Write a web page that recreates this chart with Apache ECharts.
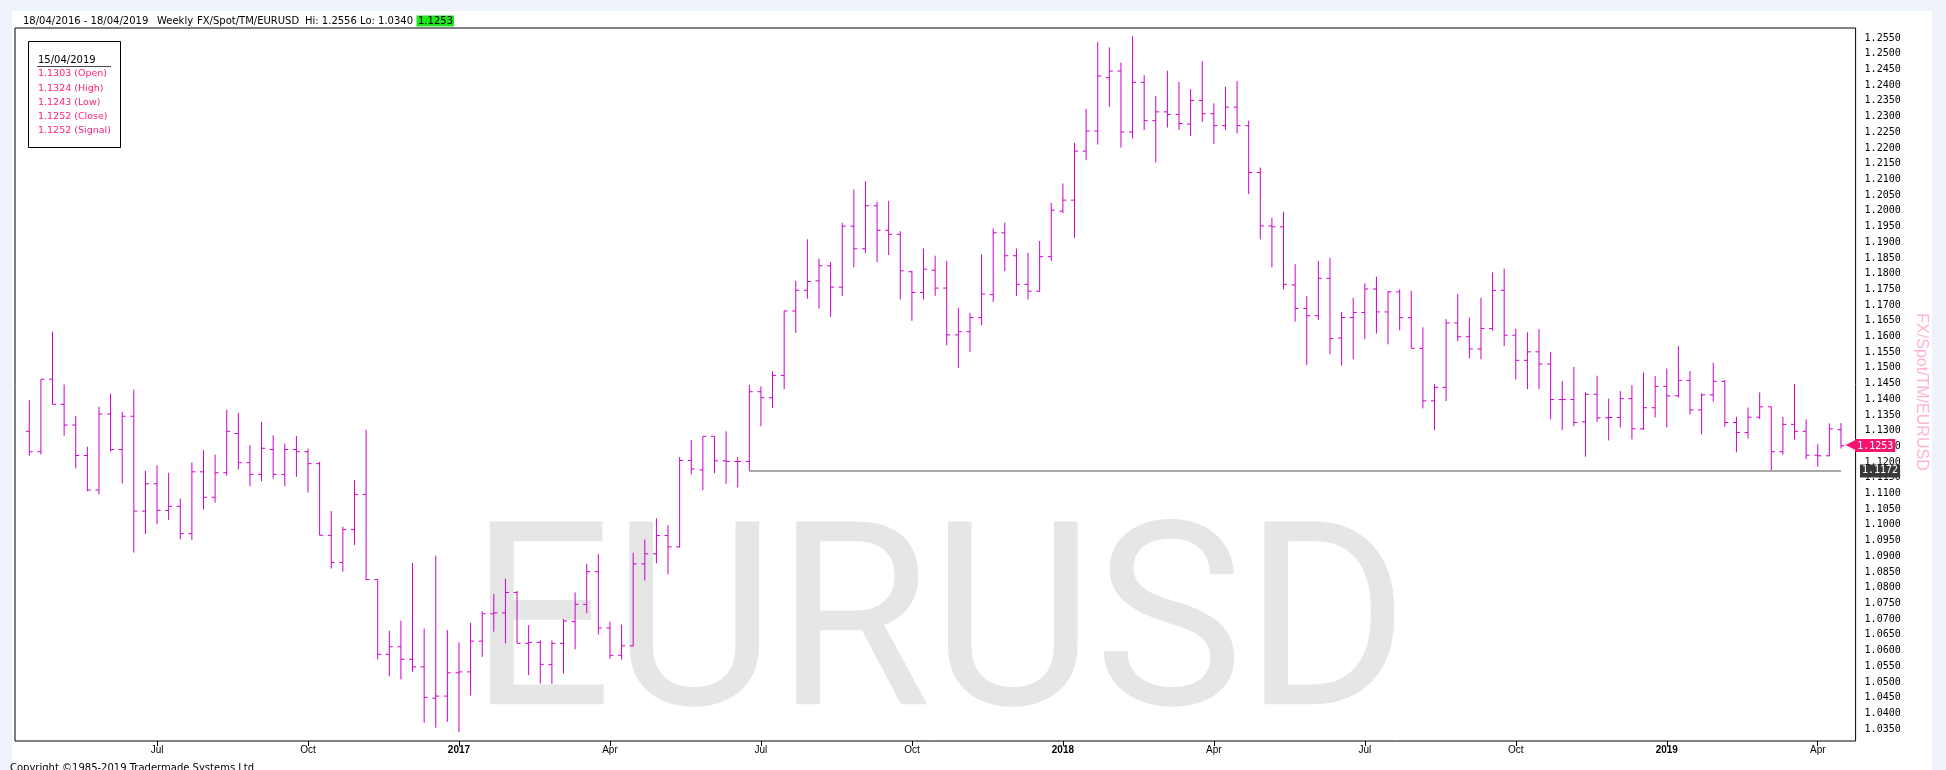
<!DOCTYPE html>
<html>
<head>
<meta charset="utf-8">
<title>EURUSD weekly</title>
<script src="https://cdn.jsdelivr.net/npm/echarts@6/dist/echarts.min.js"></script>
<style>
html,body{margin:0;padding:0;background:#eff3fb;}
#main{width:1946px;height:770px;}
</style>
</head>
<body>
<div id="main"></div>
<script>
// weekly OHLC, first bar week of 18/04/2016
var opens = [
  1.1298,1.1233,1.1464,1.1384,1.1318,1.1221,1.1111,1.1353,1.1240,1.1346,
  1.1044,1.1131,1.1046,1.1059,1.0972,1.1169,1.1088,1.1166,1.1291,1.1198,
  1.1161,1.1240,1.1160,1.1240,1.1233,1.1195,1.0967,1.0880,1.0985,1.1097,
  1.0826,1.0588,1.0612,1.0572,1.0548,1.0448,1.0455,1.0529,1.0532,1.0630,
  1.0717,1.0720,1.0785,1.0623,1.0626,1.0555,1.0623,1.0692,1.0747,1.0851,
  1.0672,1.0585,1.0615,1.0876,1.0908,1.0966,1.0930,1.1205,1.1175,1.1282,
  1.1204,1.1202,1.1202,1.1424,1.1405,1.1476,1.1681,1.1747,1.1777,1.1825,
  1.1757,1.1951,1.1879,1.2016,1.1938,1.1925,1.1806,1.1740,1.1811,1.1754,
  1.1605,1.1615,1.1660,1.1733,1.1930,1.1857,1.1766,1.1744,1.1854,1.1999,
  1.2034,1.2190,1.2254,1.2424,1.2445,1.2251,1.2409,1.2287,1.2315,1.2307,
  1.2276,1.2351,1.2309,1.2271,1.2330,1.2271,1.2122,1.1952,1.1949,1.1764,
  1.1689,1.1666,1.1785,1.1595,1.1660,1.1676,1.1751,1.1678,1.1742,1.1660,
  1.1562,1.1395,1.1438,1.1643,1.1599,1.1560,1.1625,1.1747,1.1604,1.1524,
  1.1551,1.1512,1.1399,1.1399,1.1328,1.1416,1.1341,1.1342,1.1402,1.1306,
  1.1373,1.1441,1.1411,1.1460,1.1366,1.1414,1.1457,1.1326,1.1294,1.1343,
  1.1376,1.1233,1.1320,1.1298,1.1222,1.1220,1.1303];
var highs = [
  1.1397,1.1464,1.1615,1.1447,1.1347,1.1249,1.1376,1.1418,1.1360,1.1431,
  1.1172,1.1190,1.1166,1.1084,1.1199,1.1238,1.1224,1.1367,1.1357,1.1254,
  1.1328,1.1285,1.1259,1.1283,1.1243,1.1201,1.1044,1.0994,1.1143,1.1302,
  1.0827,1.0663,1.0695,1.0879,1.0670,1.0902,1.0665,1.0626,1.0688,1.0725,
  1.0780,1.0829,1.0790,1.0681,1.0633,1.0632,1.0700,1.0785,1.0876,1.0908,
  1.0692,1.0683,1.0911,1.0953,1.1021,1.0999,1.1216,1.1270,1.1282,1.1282,
  1.1298,1.1216,1.1446,1.1441,1.1489,1.1682,1.1777,1.1909,1.1848,1.1838,
  1.1962,1.2068,1.2094,1.2029,1.2032,1.1935,1.1809,1.1880,1.1857,1.1840,
  1.1691,1.1675,1.1861,1.1944,1.1962,1.1880,1.1866,1.1904,1.2025,1.2087,
  1.2216,1.2324,1.2538,1.2520,1.2472,1.2556,1.2432,1.2365,1.2446,1.2411,
  1.2387,1.2476,1.2342,1.2395,1.2413,1.2287,1.2138,1.1978,1.1997,1.1830,
  1.1728,1.1840,1.1851,1.1678,1.1723,1.1769,1.1790,1.1744,1.1750,1.1745,
  1.1629,1.1448,1.1655,1.1735,1.1660,1.1723,1.1804,1.1816,1.1625,1.1613,
  1.1623,1.1551,1.1458,1.1503,1.1422,1.1475,1.1402,1.1426,1.1445,1.1485,
  1.1474,1.1498,1.1570,1.1490,1.1419,1.1516,1.1461,1.1344,1.1374,1.1422,
  1.1376,1.1344,1.1448,1.1336,1.1257,1.1323,1.1324];
var lows = [
  1.1220,1.1224,1.1384,1.1284,1.1180,1.1107,1.1097,1.1233,1.1132,1.0912,
  1.0971,1.1002,1.1015,1.0955,1.0952,1.1049,1.1071,1.1156,1.1177,1.1123,
  1.1139,1.1148,1.1123,1.1153,1.1103,1.0967,1.0861,1.0851,1.0936,1.0824,
  1.0572,1.0518,1.0508,1.0532,1.0370,1.0354,1.0373,1.0340,1.0457,1.0580,
  1.0660,1.0623,1.0623,1.0522,1.0495,1.0494,1.0527,1.0604,1.0719,1.0651,
  1.0574,1.0571,1.0613,1.0823,1.0878,1.0842,1.0928,1.1161,1.1111,1.1165,
  1.1130,1.1119,1.1172,1.1314,1.1372,1.1432,1.1611,1.1720,1.1689,1.1662,
  1.1729,1.1820,1.1866,1.1836,1.1859,1.1718,1.1650,1.1718,1.1729,1.1572,
  1.1500,1.1551,1.1636,1.1710,1.1808,1.1729,1.1718,1.1742,1.1840,1.1992,
  1.1914,1.2161,1.2211,1.2331,1.2201,1.2230,1.2257,1.2154,1.2265,1.2257,
  1.2238,1.2283,1.2212,1.2257,1.2246,1.2053,1.1909,1.1820,1.1750,1.1647,
  1.1509,1.1652,1.1543,1.1507,1.1527,1.1591,1.1609,1.1575,1.1620,1.1562,
  1.1371,1.1302,1.1394,1.1585,1.1530,1.1527,1.1618,1.1569,1.1463,1.1432,
  1.1432,1.1336,1.1302,1.1314,1.1217,1.1328,1.1269,1.1310,1.1272,1.1302,
  1.1342,1.1310,1.1405,1.1352,1.1288,1.1392,1.1312,1.1231,1.1275,1.1337,
  1.1174,1.1224,1.1272,1.1209,1.1185,1.1219,1.1243];
var closes = [
  1.1233,1.1464,1.1384,1.1318,1.1221,1.1111,1.1353,1.1240,1.1346,1.1044,
  1.1131,1.1046,1.1059,1.0972,1.1169,1.1088,1.1166,1.1298,1.1198,1.1161,
  1.1244,1.1161,1.1240,1.1233,1.1195,1.0967,1.0880,1.0985,1.1097,1.0826,
  1.0588,1.0612,1.0572,1.0548,1.0451,1.0455,1.0529,1.0532,1.0630,1.0717,
  1.0720,1.0785,1.0623,1.0626,1.0556,1.0623,1.0694,1.0747,1.0851,1.0672,
  1.0585,1.0615,1.0876,1.0908,1.0966,1.0930,1.1205,1.1178,1.1282,1.1204,
  1.1202,1.1202,1.1424,1.1405,1.1476,1.1681,1.1747,1.1775,1.1825,1.1757,
  1.1951,1.1879,1.2016,1.1938,1.1925,1.1809,1.1740,1.1814,1.1754,1.1605,
  1.1615,1.1660,1.1735,1.1930,1.1857,1.1766,1.1744,1.1854,1.2002,1.2034,
  1.2190,1.2254,1.2429,1.2445,1.2251,1.2409,1.2287,1.2315,1.2307,1.2278,
  1.2351,1.2309,1.2271,1.2330,1.2271,1.2122,1.1952,1.1949,1.1766,1.1689,
  1.1666,1.1785,1.1593,1.1660,1.1676,1.1751,1.1678,1.1742,1.1660,1.1562,
  1.1395,1.1438,1.1643,1.1599,1.1560,1.1625,1.1747,1.1604,1.1524,1.1551,
  1.1512,1.1399,1.1399,1.1326,1.1416,1.1341,1.1342,1.1402,1.1306,1.1373,
  1.1441,1.1411,1.1460,1.1366,1.1414,1.1457,1.1326,1.1294,1.1343,1.1376,
  1.1233,1.1320,1.1298,1.1222,1.1220,1.1306,1.1252];

// x axis labels sit on the first bar of each quarter
var tickIdx = [11, 24, 37, 50, 63, 76, 89, 102, 115, 128, 141, 154];
var tickLabels = ['Jul', 'Oct', '2017', 'Apr', 'Jul', 'Oct', '2018', 'Apr', 'Jul', 'Oct', '2019', 'Apr'];

var supportLevel = 1.1172, supportFrom = 62;
var lastPrice = 1.1253;

var n = closes.length;
var rows = [];
for (var i = 0; i < n; i++) rows.push([i, opens[i], highs[i], lows[i], closes[i]]);
var hi = Math.max.apply(null, highs), lo = Math.min.apply(null, lows);

function pad(v){ return v < 10 ? '0' + v : '' + v; }
function fmtDate(d){ return pad(d.getUTCDate()) + '/' + pad(d.getUTCMonth() + 1) + '/' + d.getUTCFullYear(); }
var lastDate = new Date(Date.UTC(2016, 3, 18) + (n - 1) * 7 * 864e5);

var barColor = '#cc00cc', pink = '#ff1f78', priceBg = '#f5146e';
var uiFont = '"DejaVu Sans", Verdana, sans-serif';
var monoFont = '"DejaVu Sans Mono", monospace';

function txt(x, y, s, size, color){
  return { type: 'text', x: x, y: y, silent: true,
    style: { text: s, fontFamily: uiFont, fontSize: size, fill: color, verticalAlign: 'middle' } };
}

var legendLines = [
  opens[n-1].toFixed(4) + ' (Open)',
  highs[n-1].toFixed(4) + ' (High)',
  lows[n-1].toFixed(4) + ' (Low)',
  closes[n-1].toFixed(4) + ' (Close)',
  closes[n-1].toFixed(4) + ' (Signal)'
];

var graphics = [
  { type: 'rect', z: -10, silent: true, shape: { x: 12, y: 11, width: 1920, height: 759 }, style: { fill: '#fff' } },
  { type: 'text', z: -5, silent: true, x: 939, y: 640, scaleX: 0.98,
    style: { text: 'EURUSD', fontFamily: 'Roboto', fontSize: 257, fill: '#e6e6e6', align: 'center', verticalAlign: 'middle' } },
  txt(23, 21, '18/04/2016 - 18/04/2019', 10, '#000'),
  txt(157, 21, 'Weekly', 10, '#000'),
  txt(197, 21, 'FX/Spot/TM/EURUSD', 10, '#000'),
  txt(305, 21, 'Hi: ' + hi.toFixed(4) + ' Lo: ' + lo.toFixed(4), 10, '#000'),
  { type: 'rect', silent: true, shape: { x: 416.5, y: 15.5, width: 37.5, height: 11 }, style: { fill: '#1ee61e' } },
  txt(418, 21, lastPrice.toFixed(4), 10, '#000'),
  { type: 'rect', silent: true, shape: { x: 28.5, y: 41.5, width: 92, height: 106 }, style: { fill: '#fff', stroke: '#000', lineWidth: 1 } },
  txt(38, 60, fmtDate(lastDate), 10, '#000'),
  { type: 'line', silent: true, shape: { x1: 37, y1: 66.5, x2: 111, y2: 66.5 }, style: { stroke: '#444', lineWidth: 1 } },
  txt(10, 768, 'Copyright \u00a91985-2019 Tradermade Systems Ltd', 10, '#000')
];
legendLines.forEach(function (s, k) {
  graphics.push(txt(38, 74 + k * 14.25, s, 9.5, pink));
});

var chart = echarts.init(document.getElementById('main'));
chart.setOption({
  animation: false,
  backgroundColor: '#eff3fb',
  graphic: graphics,
  grid: { left: 15, top: 28, width: 1840.6, height: 713, show: true, borderColor: '#000', borderWidth: 1, backgroundColor: 'transparent' },
  xAxis: {
    type: 'value', min: -1.231, max: 157.26,
    axisLine: { show: false },
    splitLine: { show: false },
    axisTick: { show: true, length: 5, customValues: tickIdx, lineStyle: { color: '#000' } },
    axisLabel: {
      customValues: tickIdx, margin: 4, color: '#000', fontSize: 10,
      fontFamily: '"Liberation Sans Narrow", "Liberation Sans", Arial, sans-serif',
      formatter: function (v) {
        var k = tickIdx.indexOf(Math.round(v));
        if (k < 0) return '';
        var s = tickLabels[k];
        return /^\d+$/.test(s) ? '{y|' + s + '}' : s;
      },
      rich: { y: { fontWeight: 'bold', fontSize: 10, color: '#000', fontFamily: '"Liberation Sans Narrow", "Liberation Sans", Arial, sans-serif' } }
    }
  },
  yAxis: {
    type: 'value', position: 'right', min: 1.0312, max: 1.2582, splitNumber: 45, scale: true,
    axisLine: { show: false }, axisTick: { show: false }, splitLine: { show: false },
    axisLabel: {
      showMinLabel: false, showMaxLabel: false, margin: 9,
      fontFamily: monoFont, fontSize: 10, color: '#000',
      formatter: function (v) { return v.toFixed(4); }
    },
    name: 'FX/Spot/TM/EURUSD', nameLocation: 'middle', nameRotate: -90, nameGap: 58,
    nameTextStyle: { color: '#ffb3d2', fontSize: 16, padding: [0, 0, 0, 15], fontFamily: '"Liberation Sans", Arial, sans-serif' }
  },
  series: [{
    type: 'custom',
    silent: true,
    z: 3,
    data: rows,
    encode: { x: 0, y: [1, 2, 3, 4] },
    renderItem: function (params, api) {
      var x = api.value(0);
      var o = api.coord([x, api.value(1)]);
      var h = api.coord([x, api.value(2)]);
      var l = api.coord([x, api.value(3)]);
      var c = api.coord([x, api.value(4)]);
      var w = api.size([1, 0])[0] * 0.3;
      var st = { stroke: barColor, lineWidth: 1 };
      return {
        type: 'group',
        children: [
          { type: 'line', shape: { x1: h[0], y1: h[1], x2: l[0], y2: l[1] }, style: st },
          { type: 'line', shape: { x1: o[0] - w, y1: o[1], x2: o[0], y2: o[1] }, style: st },
          { type: 'line', shape: { x1: c[0], y1: c[1], x2: c[0] + w, y2: c[1] }, style: st }
        ]
      };
    },
    markLine: {
      silent: true,
      animation: false,
      precision: 4,
      symbol: ['none', 'none'],
      data: [
        [
          { coord: [supportFrom, supportLevel], lineStyle: { color: '#8c8c8c', width: 1.5, type: 'solid' },
            label: { show: true, position: 'end', distance: 19, formatter: function () { return supportLevel.toFixed(4); },
              color: '#fff', backgroundColor: '#383838', padding: [2, 2, 1, 2], fontFamily: monoFont, fontSize: 10 } },
          { coord: [n - 1, supportLevel] }
        ],
        {
          yAxis: lastPrice, lineStyle: { color: 'rgba(0,0,0,0)', width: 1, type: 'solid' },
          label: { show: true, position: 'end', distance: -10,
            formatter: function () { return '{a|\u25C0}{b|' + lastPrice.toFixed(4) + '}'; },
            rich: {
              a: { color: priceBg, fontSize: 15, fontFamily: uiFont, padding: [0, -2, 0, 0] },
              b: { color: '#fff', backgroundColor: priceBg, padding: [2, 2, 1, 2], fontFamily: monoFont, fontSize: 10 }
            } }
        }
      ]
    }
  }]
});
</script>
</body>
</html>
